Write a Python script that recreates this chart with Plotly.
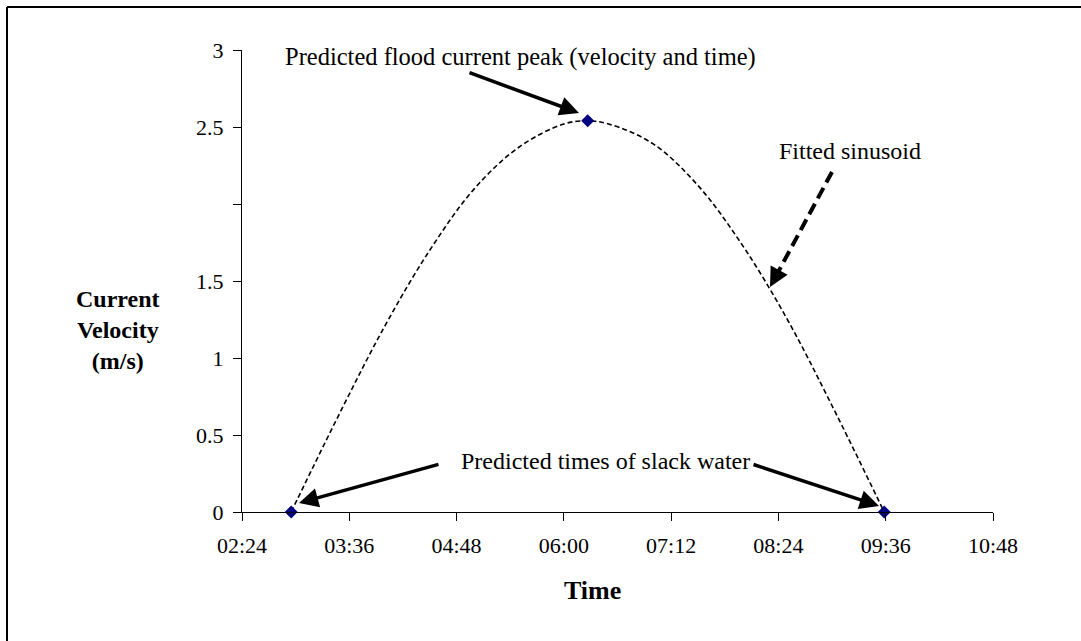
import plotly.graph_objects as go

# fitted sinusoid (time, m/s)
curve_times = ["02:57", "03:30", "04:00", "04:30", "05:00", "05:30", "06:00", "06:16",
               "06:30", "07:00", "07:30", "08:00", "08:30", "09:00", "09:35"]
curve_vals = [0, 0.65, 1.21, 1.70, 2.10, 2.37, 2.52, 2.54,
              2.52, 2.39, 2.12, 1.73, 1.25, 0.69, 0]

# predicted points: slack water and flood peak
point_times = ["02:57", "06:16", "09:35"]
point_vals = [0, 2.54, 0]

y_ticks = [0, 0.5, 1, 1.5, 2, 2.5, 3]
y_labels = ["0", "0.5", "1", "1.5", "", "2.5", "3"]
x_tick_labels = ["02:24", "03:36", "04:48", "06:00", "07:12", "08:24", "09:36", "10:48"]

DAY = "2000-01-01 "
FONT = "Liberation Serif, Times New Roman, serif"

W, H = 1081, 641
L, R, T, B = 242, 993, 50, 512   # plot area in pixels


def px(x):
    return (x - L) / (R - L)


def py(y):
    return (B - y) / (B - T)


fig = go.Figure()

fig.add_trace(go.Scatter(
    x=[DAY + t for t in curve_times], y=curve_vals,
    mode="lines", line=dict(color="black", width=1.6, dash="5px,3px", shape="spline", smoothing=1),
    hoverinfo="skip"
))
fig.add_trace(go.Scatter(
    x=[DAY + t for t in point_times], y=point_vals,
    mode="markers", marker=dict(symbol="diamond", size=10, color="#000080"),
    cliponaxis=False
))

annotations = [
    dict(text="Predicted flood current peak (velocity and time)", x=px(283), y=py(57),
         xanchor="left", yanchor="middle", showarrow=False, font=dict(size=24.5)),
    dict(text="Fitted sinusoid", x=px(777), y=py(151),
         xanchor="left", yanchor="middle", showarrow=False, font=dict(size=24)),
    dict(text="Predicted times of slack water", x=px(459), y=py(461),
         xanchor="left", yanchor="middle", showarrow=False, font=dict(size=24)),
    dict(text="<b>Current<br>Velocity<br>(m/s)</b>", x=px(118), y=py(330),
         xanchor="center", yanchor="middle", showarrow=False, font=dict(size=24)),
    dict(text="<b>Time</b>", x=px(592), y=py(590),
         xanchor="center", yanchor="middle", showarrow=False, font=dict(size=26)),
]

# solid arrows: (tail, tip) in pixels
arrows = [((468, 72), (579, 113)),
          ((440, 464), (299, 503)),
          ((752, 464), (879, 506))]
for (x0, y0), (x1, y1) in arrows:
    annotations.append(dict(
        text="", x=px(x1), y=py(y1), ax=x0 - x1, ay=y0 - y1,
        xref="paper", yref="paper", showarrow=True,
        arrowhead=2, arrowsize=1.1, arrowwidth=3.5, arrowcolor="black"
    ))

# dashed arrow: dashed shape line plus a head-only annotation
dx0, dy0, dx1, dy1 = 832, 172, 770, 287
fig.add_shape(type="line", xref="paper", yref="paper",
              x0=px(dx0), y0=py(dy0), x1=px(dx1 + 6), y1=py(dy1 - 11),
              line=dict(color="black", width=4, dash="12px,6px"))
annotations.append(dict(
    text="", x=px(dx1), y=py(dy1), ax=(dx0 - dx1) * 0.12, ay=(dy0 - dy1) * 0.12,
    xref="paper", yref="paper", showarrow=True,
    arrowhead=2, arrowsize=1.1, arrowwidth=3.5, arrowcolor="black"
))

for a in annotations:
    a.setdefault("xref", "paper")
    a.setdefault("yref", "paper")

# outer frame (top and left edges)
fig.add_shape(type="line", xref="paper", yref="paper",
              x0=px(7), y0=py(7), x1=px(W + 5), y1=py(7),
              line=dict(color="black", width=2))
fig.add_shape(type="line", xref="paper", yref="paper",
              x0=px(7), y0=py(7), x1=px(7), y1=py(H + 5),
              line=dict(color="black", width=2))

fig.update_layout(
    width=W, height=H,
    margin=dict(l=L, r=W - R, t=T, b=H - B),
    paper_bgcolor="white", plot_bgcolor="white",
    showlegend=False,
    font=dict(family=FONT, size=22, color="black"),
    annotations=annotations,
    xaxis=dict(
        type="date", range=[DAY + "02:24", DAY + "10:48"],
        tickvals=[DAY + t for t in x_tick_labels], ticktext=x_tick_labels,
        showgrid=False, zeroline=False, showline=True, linecolor="black", linewidth=1,
        ticks="outside", ticklen=8, tickcolor="black", ticklabelstandoff=6,
    ),
    yaxis=dict(
        range=[0, 3], tickvals=y_ticks, ticktext=y_labels,
        showgrid=False, zeroline=False, showline=True, linecolor="black", linewidth=1,
        ticks="outside", ticklen=8, tickcolor="black", ticklabelstandoff=5,
    ),
)

# page body has an 8px default margin; remove it so the figure sits at (0, 0)
fig.write_html("out.html", config={"displayModeBar": False},
               post_script="document.body.style.margin='0';"
                           "document.body.style.overflow='hidden';")
